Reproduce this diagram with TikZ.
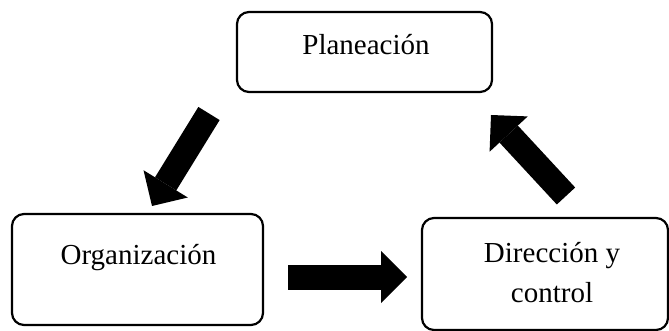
\documentclass[tikz,border=0pt]{standalone}
\usepackage{fontspec}
\setmainfont{Liberation Serif}
\usetikzlibrary{arrows.meta}
\begin{document}
\begin{tikzpicture}[x=1pt,y=-1pt,
  box/.style={draw=black,line width=2.2pt,rounded corners=12pt,inner sep=0pt},
  lbl/.style={inner sep=0pt,font=\fontsize{29}{40}\selectfont,align=center},
  blockarrow/.style={line width=25pt,-{Triangle[length=26pt,width=52pt,line width=0pt]}}]
\useasboundingbox (0,0) rectangle (669,331);
\clip (0,0) rectangle (669,331);
\node[box,minimum width=255pt,minimum height=80pt] (plan) at (364.5,52) {};
\node[box,minimum width=251pt,minimum height=111pt] (org) at (137.5,269.5) {};
\node[box,minimum width=246pt,minimum height=112pt] (dir) at (545,274) {};
\node[lbl,anchor=base] (tplan) at (366,55) {Planeación};
\node[lbl,anchor=base] (torg) at (138.5,264) {Organización};
\node[lbl,anchor=base] (tdir) at (552,302) {Dirección y\\control};
\coordinate (a1s) at (209,113.5);
\coordinate (a1e) at (152,206);
\coordinate (a2s) at (288,277);
\coordinate (a2e) at (407,277);
\coordinate (a3s) at (566,196);
\coordinate (a3e) at (491,115);
\draw[blockarrow] (a1s) -- (a1e);
\draw[blockarrow] (a2s) -- (a2e);
\draw[blockarrow] (a3s) -- (a3e);
\end{tikzpicture}
\end{document}
